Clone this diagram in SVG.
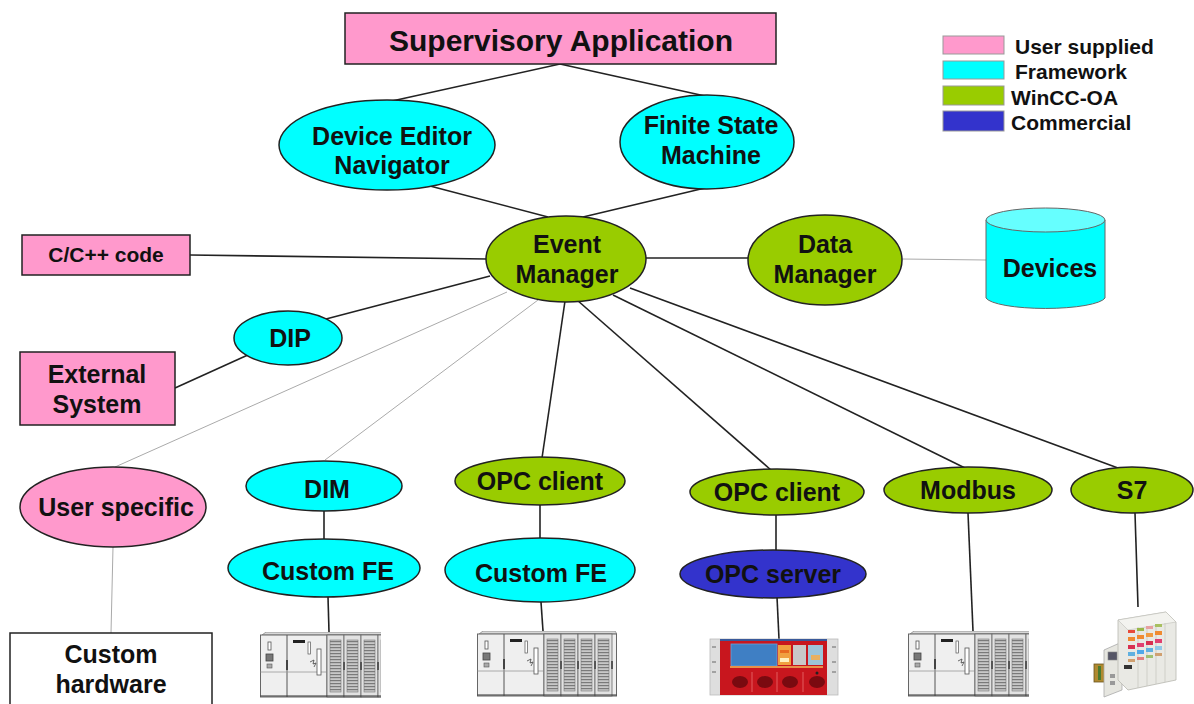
<svg xmlns="http://www.w3.org/2000/svg" width="1194" height="704" viewBox="0 0 1194 704">
  <style>
    .lbl { font-family: "Liberation Sans", Arial, sans-serif; font-weight: bold; fill: #111; text-anchor: middle; }
    .big { font-size: 30px; }
    .n { font-size: 25px; }
    .s { font-size: 21px; }
    .leg { font-family: "Liberation Sans", Arial, sans-serif; font-weight: bold; fill: #111; font-size: 21px; }
    .user { fill: #ff99cc; stroke: #222; stroke-width: 1.5; }
    .fw { fill: #00ffff; stroke: #222; stroke-width: 1.5; }
    .wcc { fill: #99cc00; stroke: #222; stroke-width: 1.5; }
    .com { fill: #3333cc; stroke: #222; stroke-width: 1.5; }
    .plain { fill: #fff; stroke: #222; stroke-width: 1.5; }
    .ln { stroke: #222; stroke-width: 1.6; fill: none; }
    .lg { stroke: #aaa; stroke-width: 1; fill: none; }
    .sw { stroke: #999; stroke-width: 1; }
  </style>
  <defs>
    <pattern id="stripes" width="4" height="3" patternUnits="userSpaceOnUse">
      <rect width="4" height="3" fill="#c8c8c8"/>
      <rect width="4" height="1.2" fill="#7a7a7a"/>
    </pattern>
    <!-- modular PLC rack: power supply, CPU and four I/O cards -->
    <g id="plc-rack">
      <path d="M2 3 L6 0 L138 0 L140 3 Z" fill="#d8d8d8" stroke="#888" stroke-width="0.8"/>
      <rect x="0.5" y="3" width="139" height="62" fill="#efefef" stroke="#666" stroke-width="1"/>
      <line x1="27" y1="3" x2="27" y2="65" stroke="#555" stroke-width="1"/>
      <line x1="67" y1="3" x2="67" y2="65" stroke="#555" stroke-width="1"/>
      <line x1="0.5" y1="40" x2="67" y2="40" stroke="#999" stroke-width="0.8"/>
      <rect x="8" y="10" width="3" height="8" fill="#fff" stroke="#555" stroke-width="0.8"/>
      <rect x="6" y="22" width="7" height="7" fill="#777" stroke="#444" stroke-width="0.8"/>
      <rect x="7" y="32" width="5" height="4" fill="#aaa" stroke="#555" stroke-width="0.6"/>
      <rect x="33" y="8" width="12" height="3" fill="#222"/>
      <rect x="48" y="10" width="2.5" height="12" fill="#fff" stroke="#555" stroke-width="0.7"/>
      <rect x="57" y="17" width="4" height="26" fill="#fff" stroke="#555" stroke-width="0.8"/>
      <path d="M50 30 l4 -2 l-1 4 l3 -1 l-2 4" fill="none" stroke="#444" stroke-width="0.8"/>
      <rect x="26" y="28" width="2" height="10" fill="#444"/>
      <g stroke="#666" stroke-width="0.8">
        <rect x="67" y="3" width="17" height="62" fill="#e2e2e2"/>
        <rect x="84" y="3" width="17" height="62" fill="#e2e2e2"/>
        <rect x="101" y="3" width="17" height="62" fill="#e2e2e2"/>
        <rect x="118" y="3" width="17" height="62" fill="#e2e2e2"/>
      </g>
      <g fill="url(#stripes)" stroke="#777" stroke-width="0.6">
        <rect x="70" y="8" width="11" height="52"/>
        <rect x="87" y="8" width="11" height="52"/>
        <rect x="104" y="8" width="11" height="52"/>
        <rect x="121" y="8" width="11" height="52"/>
      </g>
      <g fill="#555">
        <rect x="83" y="30" width="2" height="8"/>
        <rect x="100" y="30" width="2" height="8"/>
        <rect x="117" y="30" width="2" height="8"/>
        <rect x="134" y="30" width="2" height="8"/>
      </g>
      <line x1="0.5" y1="64" x2="139.5" y2="64" stroke="#333" stroke-width="1.2"/>
    </g>
    <symbol id="plc" viewBox="0 0 140 66">
      <use href="#plc-rack"/>
    </symbol>
    <!-- same rack, trimmed on the right -->
    <symbol id="plc-cut" viewBox="0 0 121 66">
      <use href="#plc-rack"/>
    </symbol>
  </defs>

  <rect width="1194" height="704" fill="#fff"/>

  <!-- connectors -->
  <g id="connectors">
    <line class="ln" x1="560" y1="64" x2="392" y2="101"/>
    <line class="ln" x1="560" y1="64" x2="705" y2="96"/>
    <line class="ln" x1="430" y1="186" x2="548" y2="217"/>
    <line class="ln" x1="705" y1="188" x2="583" y2="217"/>
    <line class="ln" x1="190" y1="255" x2="487" y2="259"/>
    <line class="ln" x1="646" y1="258" x2="749" y2="258"/>
    <line class="lg" x1="902" y1="259" x2="986" y2="260"/>
    <line class="ln" x1="326" y1="319" x2="490" y2="276"/>
    <line class="ln" x1="175" y1="388" x2="250" y2="354"/>
    <line class="lg" x1="115" y1="467" x2="507" y2="292"/>
    <line class="lg" x1="325" y1="460" x2="538" y2="300"/>
    <line class="ln" x1="565" y1="301" x2="542" y2="458"/>
    <line class="ln" x1="577" y1="300" x2="771" y2="470"/>
    <line class="ln" x1="613" y1="295" x2="965" y2="468"/>
    <line class="ln" x1="630" y1="288" x2="1118" y2="468"/>
    <line class="lg" x1="113" y1="547" x2="111" y2="633"/>
    <line class="ln" x1="324" y1="511" x2="324" y2="540"/>
    <line class="ln" x1="328" y1="597" x2="329" y2="632"/>
    <line class="ln" x1="540" y1="504" x2="540" y2="539"/>
    <line class="ln" x1="541" y1="602" x2="543" y2="631"/>
    <line class="ln" x1="776" y1="515" x2="776" y2="551"/>
    <line class="ln" x1="777" y1="597" x2="779" y2="639"/>
    <line class="ln" x1="968" y1="513" x2="973" y2="631"/>
    <line class="ln" x1="1135" y1="513" x2="1138" y2="607"/>
  </g>

  <g id="supervisory">
    <rect class="user" x="345" y="13" width="431" height="51"/>
    <text class="lbl big" x="561" y="51">Supervisory Application</text>
  </g>

  <g id="den">
    <ellipse class="fw" cx="387" cy="145" rx="108" ry="45"/>
    <text class="lbl n" x="392" y="145">Device Editor</text>
    <text class="lbl n" x="392" y="174">Navigator</text>
  </g>

  <g id="fsm">
    <ellipse class="fw" cx="707" cy="142" rx="87" ry="47"/>
    <text class="lbl n" x="711" y="134">Finite State</text>
    <text class="lbl n" x="711" y="164">Machine</text>
  </g>

  <g id="event-manager">
    <ellipse class="wcc" cx="566" cy="259" rx="80" ry="43"/>
    <text class="lbl n" x="567" y="253">Event</text>
    <text class="lbl n" x="567" y="283">Manager</text>
  </g>

  <g id="data-manager">
    <ellipse class="wcc" cx="825" cy="260" rx="77" ry="45"/>
    <text class="lbl n" x="825" y="253">Data</text>
    <text class="lbl n" x="825" y="283">Manager</text>
  </g>

  <g id="devices">
    <path d="M986 220 L986 298 A60 12 0 0 0 1105 298 L1105 220" fill="#00ffff" stroke="#666" stroke-width="1"/>
    <ellipse cx="1045.5" cy="220" rx="59.5" ry="12" fill="#66ffff" stroke="#666" stroke-width="1"/>
    <text class="lbl n" x="1050" y="277">Devices</text>
  </g>

  <g id="cpp-code">
    <rect class="user" x="22" y="235" width="168" height="40"/>
    <text class="lbl s" x="106" y="262">C/C++ code</text>
  </g>

  <g id="dip">
    <ellipse class="fw" cx="288" cy="338" rx="54" ry="27"/>
    <text class="lbl n" x="290" y="347">DIP</text>
  </g>

  <g id="external-system">
    <rect class="user" x="20" y="352" width="155" height="73"/>
    <text class="lbl n" x="97" y="383">External</text>
    <text class="lbl n" x="97" y="413">System</text>
  </g>

  <g id="user-specific">
    <ellipse class="user" cx="113" cy="507" rx="93" ry="40"/>
    <text class="lbl n" x="116" y="516">User specific</text>
  </g>

  <g id="custom-hardware">
    <rect class="plain" x="10" y="633" width="202" height="80"/>
    <text class="lbl n" x="111" y="663">Custom</text>
    <text class="lbl n" x="111" y="693">hardware</text>
  </g>

  <g id="dim">
    <ellipse class="fw" cx="324" cy="486" rx="78" ry="25"/>
    <text class="lbl n" x="327" y="498">DIM</text>
  </g>

  <g id="custom-fe-1">
    <ellipse class="fw" cx="324" cy="568" rx="96" ry="29"/>
    <text class="lbl n" x="328" y="580">Custom FE</text>
  </g>

  <g id="opc-client-1">
    <ellipse class="wcc" cx="540" cy="481" rx="85" ry="24"/>
    <text class="lbl n" x="540" y="490">OPC client</text>
  </g>

  <g id="custom-fe-2">
    <ellipse class="fw" cx="540" cy="570" rx="95" ry="32"/>
    <text class="lbl n" x="541" y="582">Custom FE</text>
  </g>

  <g id="opc-client-2">
    <ellipse class="wcc" cx="777" cy="492" rx="87" ry="23"/>
    <text class="lbl n" x="777" y="501">OPC client</text>
  </g>

  <g id="opc-server">
    <ellipse class="com" cx="773" cy="574" rx="93" ry="24"/>
    <text class="lbl n" x="773" y="583">OPC server</text>
  </g>

  <g id="modbus">
    <ellipse class="wcc" cx="968" cy="490" rx="84" ry="23"/>
    <text class="lbl n" x="968" y="499">Modbus</text>
  </g>

  <g id="s7">
    <ellipse class="wcc" cx="1132" cy="490" rx="61" ry="23"/>
    <text class="lbl n" x="1132" y="499">S7</text>
  </g>

  <!-- hardware pictures -->
  <g id="plc-1">
    <use href="#plc-cut" x="260" y="632" width="121" height="66"/>
  </g>
  <g id="plc-2">
    <use href="#plc" x="477" y="631" width="140" height="66"/>
  </g>
  <g id="plc-3">
    <use href="#plc-cut" x="908" y="631" width="121" height="66"/>
  </g>

  <g id="opc-hardware">
    <rect x="710" y="639" width="128" height="56" fill="#dedede" stroke="#bbb" stroke-width="0.8"/>
    <g stroke="#666" stroke-width="1">
      <line x1="712" y1="647" x2="716" y2="647"/>
      <line x1="712" y1="662" x2="716" y2="662"/>
      <line x1="712" y1="672" x2="716" y2="672"/>
      <line x1="832" y1="647" x2="836" y2="647"/>
      <line x1="832" y1="662" x2="836" y2="662"/>
      <line x1="832" y1="672" x2="836" y2="672"/>
    </g>
    <rect x="720" y="639" width="107" height="56" fill="#c8161e"/>
    <rect x="720" y="639" width="107" height="2" fill="#3a5a9a"/>
    <rect x="731" y="644" width="46" height="22" fill="#3f7fc4" stroke="#6aa0d8" stroke-width="0.8"/>
    <rect x="778" y="645" width="13" height="20" fill="#f0a040"/>
    <rect x="780" y="650" width="9" height="3" fill="#e86a20"/>
    <rect x="780" y="658" width="9" height="4" fill="#fff0c0"/>
    <rect x="793" y="645" width="13" height="20" fill="#c8c8c8"/>
    <rect x="808" y="645" width="15" height="20" fill="#9cc4d8"/>
    <rect x="811" y="655" width="9" height="5" fill="#e8b060"/>
    <rect x="730" y="666" width="93" height="2" fill="#e89048"/>
    <g fill="#7a0a10">
      <ellipse cx="740" cy="682" rx="8" ry="6"/>
      <ellipse cx="765" cy="682" rx="8" ry="6"/>
      <ellipse cx="790" cy="682" rx="8" ry="6"/>
      <ellipse cx="817" cy="682" rx="8" ry="6"/>
    </g>
    <g stroke="#e87070" stroke-width="0.8">
      <line x1="752" y1="672" x2="752" y2="692"/>
      <line x1="777" y1="672" x2="777" y2="692"/>
      <line x1="803" y1="672" x2="803" y2="692"/>
    </g>
    <circle cx="817" cy="673" r="1.5" fill="#222"/>
  </g>

  <g id="io-module">
    <!-- DIN rail -->
    <rect x="1094" y="664" width="18" height="18" fill="#b08a30" stroke="#6a5420" stroke-width="0.8"/>
    <rect x="1098" y="666" width="3" height="14" fill="#4a7a30"/>
    <!-- coupler with network port -->
    <path d="M1104 650 L1122 642 L1122 690 L1104 697 Z" fill="#e6e6e0" stroke="#aaa" stroke-width="0.8"/>
    <rect x="1108" y="652" width="9" height="8" fill="#556" stroke="#888" stroke-width="0.6"/>
    <rect x="1110" y="674" width="5" height="4" fill="#999"/>
    <rect x="1110" y="681" width="5" height="4" fill="#999"/>
    <!-- terminal blocks -->
    <path d="M1118 620 L1166 612 L1176 622 L1176 680 L1128 690 L1118 680 Z" fill="#e9e9e4" stroke="#b8b8b0" stroke-width="0.8"/>
    <path d="M1118 620 L1166 612 L1176 622 L1128 630 Z" fill="#f3f3ef" stroke="#c0c0b8" stroke-width="0.6"/>
    <g stroke="#c8c8c0" stroke-width="0.8">
      <line x1="1138" y1="627" x2="1138" y2="688"/>
      <line x1="1147" y1="626" x2="1147" y2="686"/>
      <line x1="1156" y1="624" x2="1156" y2="684"/>
      <line x1="1165" y1="623" x2="1165" y2="682"/>
    </g>
    <g>
      <rect x="1128" y="630" width="7" height="3" fill="#e84a3a"/>
      <rect x="1137" y="628" width="7" height="3" fill="#9ab848"/>
      <rect x="1146" y="626" width="7" height="3" fill="#e8a0a0"/>
      <rect x="1155" y="624" width="7" height="3" fill="#a8c060"/>
      <rect x="1128" y="637" width="7" height="4" fill="#f08a30"/>
      <rect x="1137" y="635" width="7" height="4" fill="#f08a30"/>
      <rect x="1146" y="633" width="7" height="4" fill="#f09a40"/>
      <rect x="1155" y="631" width="7" height="4" fill="#f08a30"/>
      <rect x="1128" y="645" width="7" height="4" fill="#d83050"/>
      <rect x="1137" y="643" width="7" height="4" fill="#e04070"/>
      <rect x="1146" y="641" width="7" height="4" fill="#d83050"/>
      <rect x="1155" y="639" width="7" height="4" fill="#e04070"/>
      <rect x="1128" y="652" width="7" height="4" fill="#60b0e0"/>
      <rect x="1137" y="650" width="7" height="4" fill="#50a8e8"/>
      <rect x="1146" y="648" width="7" height="4" fill="#60b0e0"/>
      <rect x="1155" y="646" width="7" height="4" fill="#90c8e8"/>
      <rect x="1128" y="659" width="7" height="3" fill="#d0a070"/>
      <rect x="1137" y="657" width="7" height="3" fill="#e08080"/>
      <rect x="1146" y="655" width="7" height="3" fill="#a0c070"/>
      <rect x="1155" y="653" width="7" height="3" fill="#d0a070"/>
    </g>
    <rect x="1124" y="665" width="8" height="4" fill="#333"/>
  </g>

  <!-- legend -->
  <g id="legend">
    <rect class="sw" x="943" y="36" width="61" height="18" fill="#ff99cc"/>
    <rect class="sw" x="943" y="61" width="61" height="18" fill="#00ffff"/>
    <rect class="sw" x="943" y="86" width="61" height="19" fill="#99cc00"/>
    <rect class="sw" x="943" y="111" width="61" height="20" fill="#3333cc"/>
    <text class="leg" x="1015" y="54">User supplied</text>
    <text class="leg" x="1015" y="79">Framework</text>
    <text class="leg" x="1011" y="105">WinCC-OA</text>
    <text class="leg" x="1011" y="130">Commercial</text>
  </g>
</svg>
